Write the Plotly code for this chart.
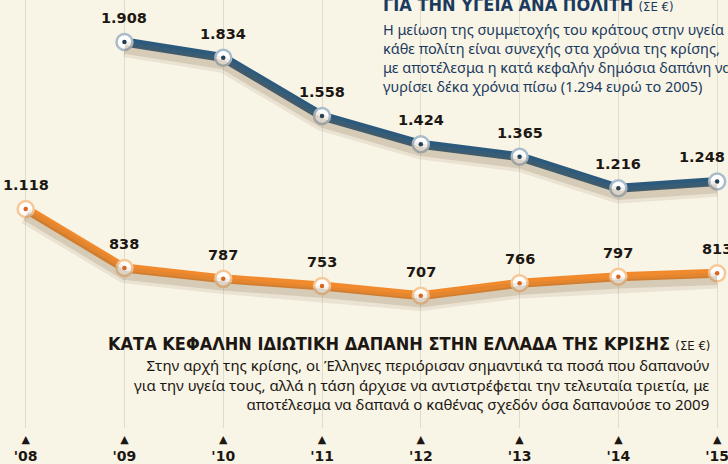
import plotly.graph_objects as go

years = [2008, 2009, 2010, 2011, 2012, 2013, 2014, 2015]
tick_labels = ["'08", "'09", "'10", "'11", "'12", "'13", "'14", "'15"]
public_years = [2009, 2010, 2011, 2012, 2013, 2014, 2015]
public_values = [1908, 1834, 1558, 1424, 1365, 1216, 1248]
private_years = [2008, 2009, 2010, 2011, 2012, 2013, 2014, 2015]
private_values = [1118, 838, 787, 753, 707, 766, 797, 813]

BLUE = "#2c5a7c"
ORANGE = "#f08a2c"
BG = "#f8f4e6"
INK = "#1c1712"
NAVY = "#1b3b5e"

Y_RANGE = [81, 2107]
SHADOW_SHIFT = 34  # data units (~7 px) for the drop shadow axis


def fmt(v):
    return f"{v:,}".replace(",", ".")


fig = go.Figure()

# soft drop shadows (drawn on an overlaid, slightly shifted axis)
for xs, ys in [(public_years, public_values), (private_years, private_values)]:
    fig.add_trace(go.Scatter(
        x=xs, y=ys, mode="lines", yaxis="y2",
        line=dict(color="rgba(140,110,70,0.12)", width=16),
        hoverinfo="skip", showlegend=False,
    ))
    fig.add_trace(go.Scatter(
        x=xs, y=ys, mode="lines", yaxis="y2",
        line=dict(color="rgba(125,95,55,0.18)", width=9),
        hoverinfo="skip", showlegend=False,
    ))

# series lines
for xs, ys, col, ring, dot in [
    (public_years, public_values, BLUE, "#a9bccb", "#1f3d55"),
    (private_years, private_values, ORANGE, "#f6c898", "#e0651a"),
]:
    fig.add_trace(go.Scatter(
        x=xs, y=ys, mode="lines+markers",
        line=dict(color=col, width=9),
        marker=dict(size=16, color="white", line=dict(color=ring, width=2.5)),
        hoverinfo="skip", showlegend=False,
    ))
    fig.add_trace(go.Scatter(
        x=xs, y=ys, mode="markers",
        marker=dict(size=4.5, color=dot),
        hoverinfo="skip", showlegend=False,
    ))

annotations = []
label_font = dict(family="DejaVu Sans, Arial", size=14.5, color=INK)
for i, (x, v) in enumerate(zip(public_years, public_values)):
    last = i == len(public_years) - 1
    annotations.append(dict(
        x=x, y=v, xref="x", yref="y", text="<b>" + fmt(v) + "</b>",
        showarrow=False, yshift=24, xshift=10 if last else 0,
        xanchor="right" if last else "center",
        font=label_font,
    ))
for x, v in zip(private_years, private_values):
    annotations.append(dict(
        x=x, y=v, xref="x", yref="y", text="<b>" + fmt(v) + "</b>",
        showarrow=False, yshift=24, font=label_font,
    ))

HEAD_FONT = "Liberation Sans Narrow, DejaVu Sans Condensed, Arial Narrow, Arial"

# top (public) heading and text
annotations.append(dict(
    xref="paper", yref="paper", x=381 / 728, y=1.0, yshift=-4,
    xanchor="left", yanchor="middle", showarrow=False,
    text="<b>ΓΙΑ ΤΗΝ ΥΓΕΙΑ ΑΝΑ ΠΟΛΙΤΗ</b> <span style='font-size:13px'>(ΣΕ €)</span>",
    font=dict(family=HEAD_FONT, size=18, color=NAVY),
))
annotations.append(dict(
    xref="paper", yref="paper", x=381 / 728, y=1.0, yshift=-17,
    xanchor="left", yanchor="top", align="left", showarrow=False,
    text=("Η μείωση της συμμετοχής του κράτους στην υγεία<br>"
          "κάθε πολίτη είναι συνεχής στα χρόνια της κρίσης,<br>"
          "με αποτέλεσμα η κατά κεφαλήν δημόσια δαπάνη να<br>"
          "γυρίσει δέκα χρόνια πίσω (1.294 ευρώ το 2005)"),
    font=dict(family="Noto Sans, DejaVu Sans", size=14.5, color=NAVY),
))

# bottom (private) heading and text
annotations.append(dict(
    xref="paper", yref="paper", x=712 / 728, y=1.0, yshift=-343,
    xanchor="right", yanchor="middle", showarrow=False,
    text="<b>ΚΑΤΑ ΚΕΦΑΛΗΝ ΙΔΙΩΤΙΚΗ ΔΑΠΑΝΗ ΣΤΗΝ ΕΛΛΑΔΑ ΤΗΣ ΚΡΙΣΗΣ</b> <span style='font-size:13px'>(ΣΕ €)</span>",
    font=dict(family=HEAD_FONT, size=18, color=INK),
))
annotations.append(dict(
    xref="paper", yref="paper", x=712 / 728, y=1.0, yshift=-353,
    xanchor="right", yanchor="top", align="right", showarrow=False,
    text=("Στην αρχή της κρίσης, οι Έλληνες περιόρισαν σημαντικά τα ποσά που δαπανούν<br>"
          "για την υγεία τους, αλλά η τάση άρχισε να αντιστρέφεται την τελευταία τριετία, με<br>"
          "αποτέλεσμα να δαπανά ο καθένας σχεδόν όσα δαπανούσε το 2009"),
    font=dict(family="Noto Sans, DejaVu Sans", size=15, color=INK),
))

fig.update_layout(
    width=728, height=464,
    margin=dict(l=0, r=0, t=0, b=36),
    paper_bgcolor=BG, plot_bgcolor=BG,
    annotations=annotations,
    xaxis=dict(
        range=[2007.74, 2015.11],
        tickmode="array", tickvals=years,
        ticktext=["<span style='font-size:11px'>▲</span><br><b>" + t + "</b>" for t in tick_labels],
        tickfont=dict(family="DejaVu Sans, Arial", size=14, color=INK),
        ticklabeloverflow="allow",
        showgrid=True, gridcolor="#e0dccd", gridwidth=1,
        zeroline=False, showline=False, ticks="",
    ),
    yaxis=dict(
        range=Y_RANGE,
        showgrid=False, zeroline=False, showticklabels=False, showline=False,
    ),
    yaxis2=dict(
        range=[Y_RANGE[0] + SHADOW_SHIFT, Y_RANGE[1] + SHADOW_SHIFT],
        overlaying="y", showgrid=False, zeroline=False,
        showticklabels=False, showline=False,
    ),
)

fig.write_html("out.html", config={"displayModeBar": False},
               post_script="document.body.style.margin='0';")
